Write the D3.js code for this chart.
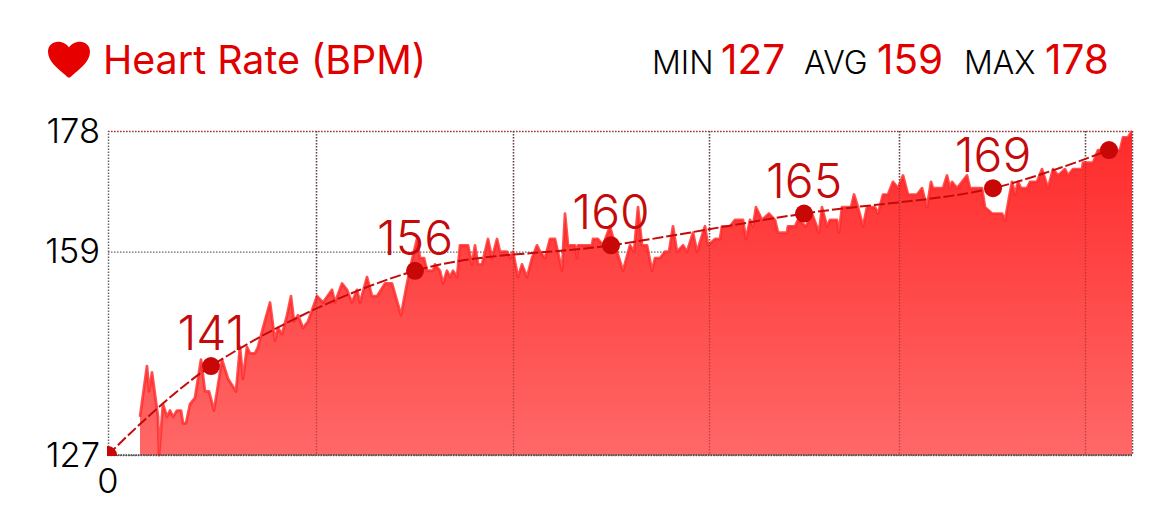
<!DOCTYPE html>
<html><head><meta charset="utf-8">
<script src="https://cdnjs.cloudflare.com/ajax/libs/d3/7.8.5/d3.min.js"></script>
<style>html,body{margin:0;padding:0;background:#fff}svg{display:block}text{font-family:Inter,"Noto Sans",sans-serif}</style>
</head><body><svg id="c" width="1170" height="515"></svg>
<script>
const times=[32,39,41,44,50,51,55,59,62,65,69,73,75,78,82,87,93,97,101,106,110,114,120,128,132,135,139,142,147,150,155,162,167,170,174,179,183,186,190,195,200,209,215,224,227,234,239,244,249,252,259,264,269,277,284,293,299,303,309,312,316,319,325,327,332,335,339,342,345,349,352,360,364,367,370,374,380,384,389,392,399,402,405,410,414,419,424,429,432,437,442,447,454,457,460,467,469,470,484,485,490,495,502,507,515,522,526,530,534,539,544,547,552,557,561,565,569,575,579,585,589,597,600,607,612,614,622,627,635,638,642,645,648,654,661,667,670,679,680,687,690,698,704,711,714,719,722,729,731,734,740,743,746,750,755,759,767,770,775,780,785,790,795,800,809,814,819,823,825,835,839,842,844,849,854,859,862,874,877,884,894,897,904,907,910,913,919,922,929,934,940,945,950,957,960,965,974,975,985,990,1012,1015,1020,1024];
const bpm=[133,141,137,140,133,127,135,133,134,133,134,134,132,132,135,136,142,137,137,134,138,142,139,137,144,139,144,143,143,144,147,151,145,147,146,149,152,148,149,147,148,152,151,153,151,154,153,151,153,151,155,152,152,154,154,149,154,157,161,158,158,156,156,157,156,154,156,155,156,155,160,160,157,160,157,157,161,158,161,159,159,158,159,155,157,155,158,160,159,158,161,161,156,165,160,160,158,160,160,161,161,160,163,160,156,160,159,166,160,160,156,158,158,159,159,163,159,160,159,162,159,163,160,161,161,163,163,164,164,161,164,163,166,164,165,164,162,162,163,163,164,163,165,162,166,163,164,164,162,166,166,166,168,166,163,166,166,165,168,168,170,169,171,168,168,169,166,170,169,169,171,169,170,169,170,171,169,169,166,165,165,164,170,168,170,169,169,170,170,172,169,172,171,172,171,172,172,173,173,175,175,177,177,178];
const trendTimes=[0,103,307,503,696,885,1001];
const trendBpm=[127,141,156,160,165,169,175];
const trendLabels=["","141","156","160","165","169",""];
const yTicks=[127,159,178];
const xTicks=[208,405,601,791,977,1024];
const xLabelTicks=[0];
const statNames=["MIN","AVG","MAX"];
const statValues=[127,159,178];

const svg=d3.select("#c");
const x=d3.scaleLinear().domain([0,1024]).range([108,1132]);
const y=d3.scaleLinear().domain([127,178]).range([455,131]);
const pts=times.map((t,i)=>[t,bpm[i]]);

const defs=svg.append("defs");
const g=defs.append("linearGradient").attr("id","fill").attr("gradientUnits","userSpaceOnUse")
 .attr("x1",0).attr("x2",0).attr("y1",y(178)).attr("y2",y(127));
g.append("stop").attr("offset",0).attr("stop-color","#ff2a2a");
g.append("stop").attr("offset",1).attr("stop-color","#ff6868");
defs.append("clipPath").attr("id","plot").append("rect").attr("x",107).attr("y",100).attr("width",1040).attr("height",356);

const dot="#666";
const gy=svg.append("g").attr("transform","translate(108,0)")
 .call(d3.axisLeft(y).tickValues(yTicks).tickSize(-1024).tickFormat(d3.format("d")).tickPadding(8));
gy.select(".domain").attr("stroke",dot).attr("stroke-width",1.5).attr("stroke-dasharray","1.5 1.5");
gy.selectAll("line").attr("stroke",dot).attr("stroke-width",1.2).attr("stroke-dasharray","1.5 1.5");
gy.selectAll("text").attr("font-size",34.5).attr("fill","#000").attr("font-family","Inter").attr("font-weight",300);
gy.selectAll(".tick").filter(d=>d===178).select("line").attr("stroke","#c03030");
const gx=svg.append("g").attr("transform","translate(0,131)")
 .call(d3.axisBottom(x).tickValues(xTicks).tickSize(324).tickFormat(""));
gx.select(".domain").remove();
gx.selectAll("line").attr("stroke",dot).attr("stroke-width",1.5).attr("stroke-dasharray","1.5 1.5");

svg.append("path").datum(pts).attr("fill","url(#fill)")
 .attr("d",d3.area().x(d=>x(d[0])).y0(y(127)).y1(d=>y(d[1])));
svg.append("path").datum(pts).attr("fill","none").attr("stroke","#ff2828").attr("stroke-opacity",.8).attr("stroke-width",2.8).attr("stroke-linejoin","round")
 .attr("d",d3.line().x(d=>x(d[0])).y(d=>y(d[1])));

const ov=svg.append("g").attr("transform","translate(0,131)")
 .call(d3.axisBottom(x).tickValues(xTicks).tickSize(324).tickFormat(""));
ov.select(".domain").remove();
ov.selectAll("line").attr("stroke","#7a2020").attr("stroke-opacity",.5).attr("stroke-width",1.3).attr("stroke-dasharray","1.5 1.5");
svg.append("line").attr("x1",x(0)).attr("x2",x(1024)).attr("y1",y(127)).attr("y2",y(127)).attr("stroke","#444").attr("stroke-dasharray","1.5 1").attr("stroke-width",1.6);

const tp=trendTimes.map((t,i)=>[t,trendBpm[i]]);
svg.append("path").datum(tp).attr("fill","none").attr("stroke","#c40a0a").attr("stroke-width",2).attr("stroke-dasharray","11 3")
 .attr("d",d3.line().x(d=>x(d[0])).y(d=>y(d[1])).curve(d3.curveCatmullRom));
svg.append("g").attr("clip-path","url(#plot)").selectAll("circle").data(tp).join("circle")
 .attr("cx",d=>x(d[0])).attr("cy",d=>y(d[1])).attr("r",9).attr("fill","#c80707");
svg.append("g").selectAll("text").data(trendLabels.map((l,i)=>[l,i])).join("text")
 .attr("x",d=>x(trendTimes[d[1]])).attr("y",d=>y(trendBpm[d[1]])-16)
 .attr("text-anchor","middle").attr("font-size",48).attr("font-weight",300).attr("fill","#c40a0a").text(d=>d[0]);

svg.append("text").attr("x",x(xLabelTicks[0])).attr("y",493).attr("text-anchor","middle").attr("font-size",34.5).attr("font-weight",300).attr("fill","#000").text(xLabelTicks[0]);

svg.append("path").attr("fill","#e60000").attr("transform","translate(69,77.5) scale(1.05)")
 .attr("d","M0,0 C-1,0 -2,-1 -3,-2 C-10,-8 -20,-15 -20,-24.5 C-20,-30.5 -15.5,-34 -10.5,-34 C-5.5,-34 -2,-31.5 0,-28.5 C2,-31.5 5.5,-34 10.5,-34 C15.5,-34 20,-30.5 20,-24.5 C20,-15 10,-8 3,-2 C2,-1 1,0 0,0 Z");
svg.append("text").attr("x",103).attr("y",74).attr("font-size",39.4).attr("fill","#e00000").text("Heart Rate (BPM)");
const nameX=[652,804,964],valX=[721,877,1045];
statNames.forEach((n,i)=>{
 svg.append("text").attr("x",nameX[i]).attr("y",74).attr("font-size",32).attr("font-weight",300).attr("fill","#000").text(n);
 svg.append("text").attr("x",valX[i]).attr("y",74).attr("font-size",40.5).attr("fill","#e00000").text(statValues[i]);
});
</script></body></html>
